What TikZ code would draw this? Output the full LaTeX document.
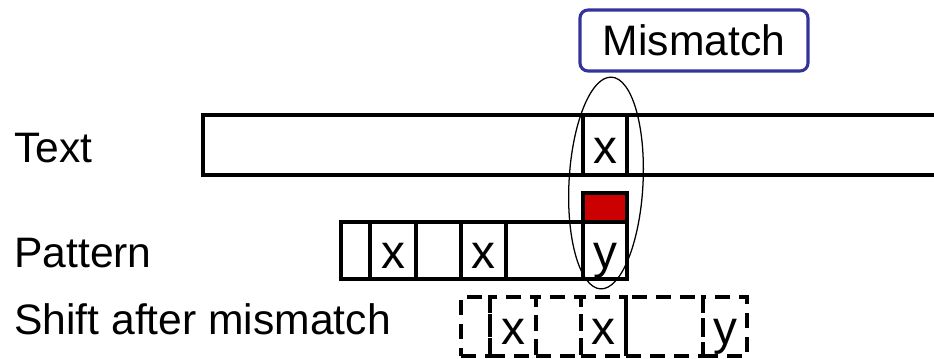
\documentclass[tikz,border=0pt]{standalone}
\usepackage{fontspec}
\setmainfont{Liberation Sans}
\usetikzlibrary{shapes.geometric}
\newlength{\pxu}
\setlength{\pxu}{0.025cm}
\definecolor{mmblue}{RGB}{51,51,153}
\definecolor{mmred}{RGB}{204,0,0}

\begin{document}
\begin{tikzpicture}[x=0.025cm, y=-0.025cm,
	font=\fontsize{30.3}{36}\selectfont,
	cell/.style={draw, line width=2.2pt, inner sep=0pt, font=\fontsize{34}{40}\selectfont, text height=36\pxu, text depth=0pt, minimum height=57\pxu},
	ghost/.style={cell, dash pattern=on 15\pxu off 9\pxu, minimum height=59\pxu},
	lbl/.style={anchor=base west, inner sep=0pt}]
	\useasboundingbox (0, 0) rectangle (934, 358);

	\draw node[lbl] at (14, 162) (lbltext) {Text};
	\draw node[lbl] at (14, 267) (lblpat) {Pattern};
	\draw node[lbl] at (14, 334) (lblshift) {Shift after mismatch};

	\draw node[cell, minimum width=780\pxu, minimum height=60\pxu] at (593, 145) (textbar) {};
	\draw node[cell, minimum width=44\pxu, minimum height=60\pxu] at (605, 145) (tx) {x};

	\draw node[cell, minimum width=29\pxu] at (355.5, 250.5) (p1) {};
	\draw node[cell, minimum width=46\pxu] at (393, 250.5) (p2) {x};
	\draw node[cell, minimum width=45\pxu] at (438.5, 250.5) (p3) {};
	\draw node[cell, minimum width=45\pxu] at (483.5, 250.5) (p4) {x};
	\draw node[cell, minimum width=77\pxu] at (544.5, 250.5) (p5) {};
	\draw node[cell, minimum width=44\pxu] at (605, 250.5) (p6) {y};
	\draw node[cell, text height=0pt, minimum width=44\pxu, minimum height=29\pxu, fill=mmred] at (605, 207.5) (hit) {};

	\draw node[ghost, minimum width=29\pxu] at (475.5, 326.5) (s1) {};
	\draw node[ghost, minimum width=46\pxu] at (513, 326.5) (s2) {x};
	\draw node[ghost, minimum width=45\pxu] at (558.5, 326.5) (s3) {};
	\draw node[ghost, minimum width=45\pxu] at (603.5, 326.5) (s4) {x};
	\draw node[ghost, minimum width=77\pxu] at (664.5, 326.5) (s5) {};
	\draw node[ghost, minimum width=44\pxu] at (725, 326.5) (s6) {y};

	\draw node[draw=mmblue, line width=2.2pt, rounded corners=8\pxu, minimum width=228\pxu, minimum height=61\pxu] at (694, 40.5) (mm) {Mismatch};
	\draw node[ellipse, draw, line width=0.9pt, inner sep=0pt, minimum width=74\pxu, minimum height=212\pxu, rotate=-3] at (606, 183) (ring) {};
\end{tikzpicture}
\end{document}
